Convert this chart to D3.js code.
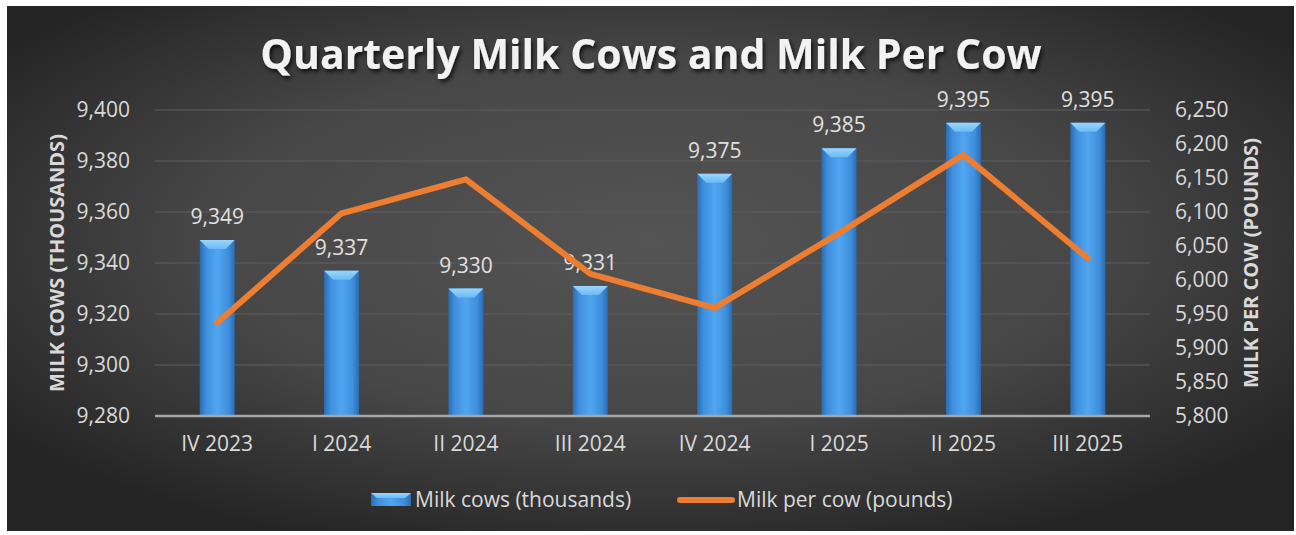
<!DOCTYPE html>
<html>
<head>
<meta charset="utf-8">
<script src="https://cdn.jsdelivr.net/npm/d3@7"></script>
<style>
  html, body { margin: 0; padding: 0; background: #fff; }
  svg { display: block; font-family: "Open Sans", sans-serif; }
</style>
</head>
<body>
<svg id="chart" width="1296" height="535"></svg>
<script>
var quarters = ['IV 2023', 'I 2024', 'II 2024', 'III 2024', 'IV 2024', 'I 2025', 'II 2025', 'III 2025'];
var milkCows = [9349, 9337, 9330, 9331, 9375, 9385, 9395, 9395];
var milkPerCow = [5937, 6098, 6148, 6009, 5959, 6069, 6184, 6032];
var leftTicks = [9280, 9300, 9320, 9340, 9360, 9380, 9400];
var rightTicks = [5800, 5850, 5900, 5950, 6000, 6050, 6100, 6150, 6200, 6250];

var svg = d3.select('#chart');
var fmt = d3.format(',');
var plot_left = 155, plot_right = 1150, plot_top = 110, plot_bottom = 416;
var bar_w = 35;
var font = '"Open Sans", sans-serif';

var defs = svg.append('defs');
var bg = defs.append('radialGradient').attr('id', 'bg').attr('cx', '0.5').attr('cy', '0.45').attr('r', '0.62');
bg.append('stop').attr('offset', '0').attr('stop-color', '#545454');
bg.append('stop').attr('offset', '0.55').attr('stop-color', '#474747');
bg.append('stop').attr('offset', '1').attr('stop-color', '#252525');

var bar_grad = defs.append('linearGradient').attr('id', 'barg').attr('x1', '0').attr('x2', '1').attr('y1', '0').attr('y2', '0');
bar_grad.append('stop').attr('offset', '0').attr('stop-color', '#2a6cb3');
bar_grad.append('stop').attr('offset', '0.18').attr('stop-color', '#3f8fdc');
bar_grad.append('stop').attr('offset', '0.5').attr('stop-color', '#51a6f0');
bar_grad.append('stop').attr('offset', '0.82').attr('stop-color', '#3f8fdc');
bar_grad.append('stop').attr('offset', '1').attr('stop-color', '#2a6cb3');

var bevel = defs.append('linearGradient').attr('id', 'bev').attr('x1', '0').attr('x2', '0').attr('y1', '0').attr('y2', '1');
bevel.append('stop').attr('offset', '0').attr('stop-color', '#9ad6fb');
bevel.append('stop').attr('offset', '1').attr('stop-color', '#6cbaf5');

var shadow = defs.append('filter').attr('id', 'shadow').attr('x', '-10%').attr('y', '-30%').attr('width', '120%').attr('height', '160%');
shadow.append('feDropShadow').attr('dx', 2).attr('dy', 3).attr('stdDeviation', 2).attr('flood-color', '#000').attr('flood-opacity', 0.7);

svg.append('rect').attr('x', 7).attr('y', 6).attr('width', 1287).attr('height', 525).attr('fill', 'url(#bg)');

var x = d3.scaleBand().domain(quarters).range([plot_left, plot_right]);
var yL = d3.scaleLinear().domain([9280, 9400]).range([plot_bottom, plot_top]);
var yR = d3.scaleLinear().domain([5800, 6250]).range([plot_bottom, plot_top]);

// grid
svg.append('g').selectAll('line').data(leftTicks.slice(1)).enter().append('line')
  .attr('x1', plot_left).attr('x2', plot_right)
  .attr('y1', d => yL(d)).attr('y2', d => yL(d))
  .attr('stroke', '#5e5e5e').attr('stroke-width', 1.2);

// left axis
var leftAxis = svg.append('g').attr('transform', 'translate(' + (plot_left - 22) + ',0)')
  .call(d3.axisLeft(yL).tickValues(leftTicks).tickFormat(fmt).tickSize(0))
  .attr('font-family', font);
leftAxis.select('.domain').remove();
leftAxis.selectAll('text').attr('fill', '#d9d9d9').attr('font-size', 21);

// right axis
var rightAxis = svg.append('g').attr('transform', 'translate(' + (plot_right + 22) + ',0)')
  .call(d3.axisRight(yR).tickValues(rightTicks).tickFormat(fmt).tickSize(0))
  .attr('font-family', font);
rightAxis.select('.domain').remove();
rightAxis.selectAll('text').attr('fill', '#d9d9d9').attr('font-size', 21);

// bottom axis
var bottomAxis = svg.append('g').attr('transform', 'translate(0,' + plot_bottom + ')')
  .call(d3.axisBottom(x).tickSize(0).tickPadding(20))
  .attr('font-family', font);
bottomAxis.select('.domain').remove();
bottomAxis.selectAll('text').attr('fill', '#d9d9d9').attr('font-size', 21);

// bars
var bars = svg.append('g').selectAll('g').data(quarters).enter().append('g');
bars.append('rect')
  .attr('x', d => x(d) + x.bandwidth() / 2 - bar_w / 2)
  .attr('y', (d, i) => yL(milkCows[i]))
  .attr('width', bar_w)
  .attr('height', (d, i) => plot_bottom - yL(milkCows[i]))
  .attr('fill', 'url(#barg)');
bars.append('polygon')
  .attr('points', function(d, i) {
    var x0 = x(d) + x.bandwidth() / 2 - bar_w / 2, x1 = x0 + bar_w, t = yL(milkCows[i]);
    return [[x0, t], [x1, t], [x1 - 9, t + 9], [x0 + 9, t + 9]].join(' ');
  })
  .attr('fill', 'url(#bev)');

// base line
svg.append('line').attr('x1', plot_left).attr('x2', plot_right)
  .attr('y1', plot_bottom).attr('y2', plot_bottom)
  .attr('stroke', '#a6a6a6').attr('stroke-width', 2.5);

// bar labels
svg.append('g').selectAll('text').data(quarters).enter().append('text')
  .attr('x', d => x(d) + x.bandwidth() / 2)
  .attr('y', (d, i) => yL(milkCows[i]) - 16)
  .attr('text-anchor', 'middle')
  .attr('fill', '#e0e0e0').attr('font-size', 21)
  .text((d, i) => fmt(milkCows[i]));

// line
var line = d3.line().x((d, i) => x(quarters[i]) + x.bandwidth() / 2).y(d => yR(d));
svg.append('path').datum(milkPerCow)
  .attr('d', line)
  .attr('fill', 'none').attr('stroke', '#ed7d31').attr('stroke-width', 6)
  .attr('stroke-linecap', 'round').attr('stroke-linejoin', 'round');

// title
svg.append('text').attr('x', 651).attr('y', 69).attr('text-anchor', 'middle')
  .attr('fill', '#f2f2f2').attr('font-size', 41).attr('font-weight', 'bold')
  .attr('filter', 'url(#shadow)')
  .text('Quarterly Milk Cows and Milk Per Cow');

// axis titles
svg.append('text').attr('transform', 'translate(64,263) rotate(-90)')
  .attr('text-anchor', 'middle').attr('fill', '#d9d9d9').attr('font-size', 20).attr('font-weight', 'bold')
  .text('MILK COWS (THOUSANDS)');
svg.append('text').attr('transform', 'translate(1258,263) rotate(-90)')
  .attr('text-anchor', 'middle').attr('fill', '#d9d9d9').attr('font-size', 20).attr('font-weight', 'bold')
  .text('MILK PER COW (POUNDS)');

// legend
var lg = svg.append('g');
lg.append('rect').attr('x', 371).attr('y', 493).attr('width', 40).attr('height', 13).attr('fill', 'url(#barg)');
lg.append('polygon').attr('points', '371,493 411,493 405,498 377,498').attr('fill', 'url(#bev)');
lg.append('text').attr('x', 415).attr('y', 507).attr('fill', '#d9d9d9').attr('font-size', 21).text('Milk cows (thousands)');
lg.append('line').attr('x1', 680).attr('x2', 732).attr('y1', 500).attr('y2', 500)
  .attr('stroke', '#ed7d31').attr('stroke-width', 6).attr('stroke-linecap', 'round');
lg.append('text').attr('x', 737).attr('y', 507).attr('fill', '#d9d9d9').attr('font-size', 21).text('Milk per cow (pounds)');
</script>
</body>
</html>
